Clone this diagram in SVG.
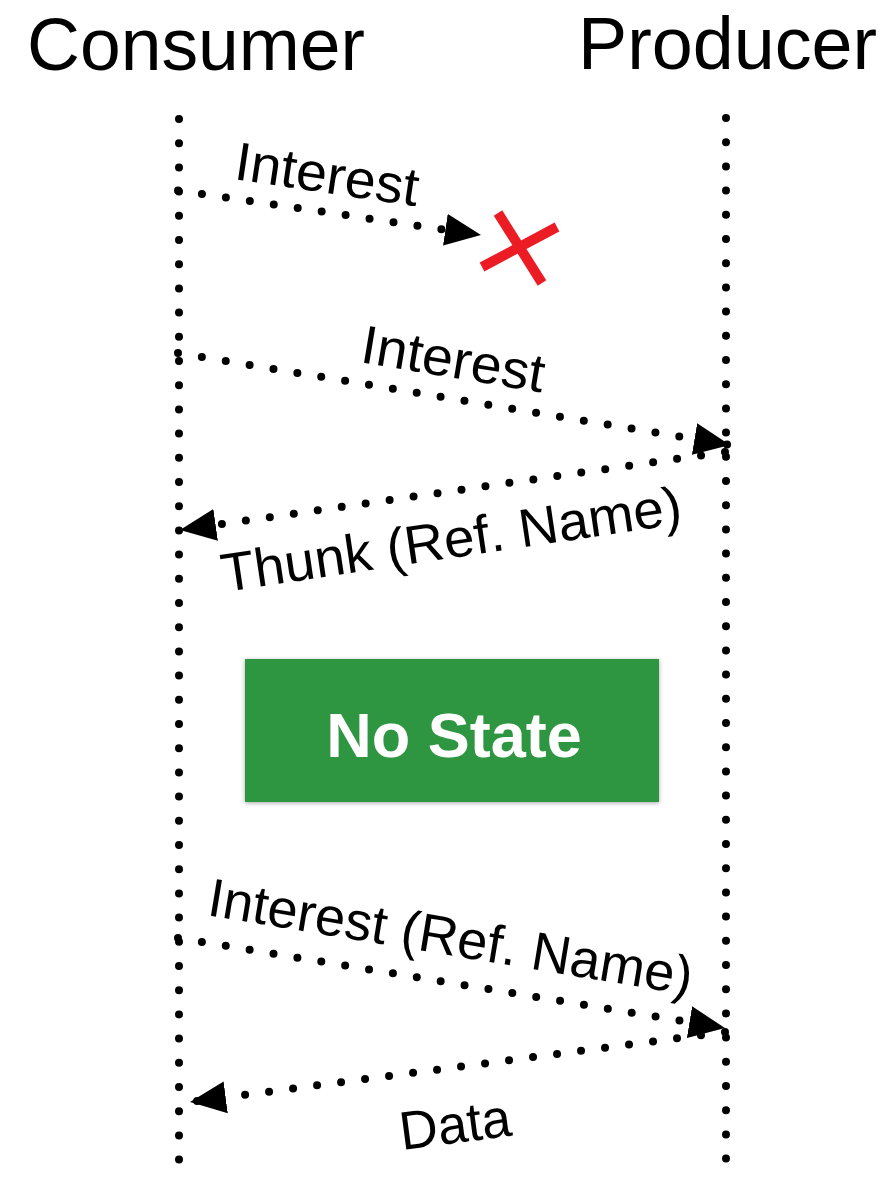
<svg xmlns="http://www.w3.org/2000/svg" width="886" height="1180" viewBox="0 0 886 1180">
<style>
.title{font-family:"Liberation Sans",Arial,sans-serif;font-size:74px;fill:#000}
.lbl{font-family:"Liberation Sans",Arial,sans-serif;font-size:54px;fill:#000}
.life{stroke:#000;stroke-width:8;stroke-linecap:round;stroke-dasharray:0 24.2;fill:none}
.msg{stroke:#000;stroke-width:8;stroke-linecap:round;stroke-dasharray:0 24.2;fill:none;marker-end:url(#ah)}
.state{font-family:"Liberation Sans",Arial,sans-serif;font-size:63px;font-weight:bold;fill:#fff}
</style>
<defs>
<marker id="ah" viewBox="0 0 36 32" refX="36" refY="16" markerWidth="36" markerHeight="32" markerUnits="userSpaceOnUse" orient="auto">
<path d="M0,0 L36,16 L0,32 z" fill="#000"/>
</marker>
<filter id="sh" x="-5%" y="-10%" width="110%" height="125%">
<feDropShadow dx="0" dy="1" stdDeviation="2" flood-color="#000" flood-opacity="0.35"/>
</filter>
</defs>
<rect width="886" height="1180" fill="#fff"/>
<g id="consumer">
<text class="title" x="27" y="70" textLength="338" lengthAdjust="spacingAndGlyphs">Consumer</text>
<line class="life" x1="179" y1="119" x2="179" y2="1180"/>
</g>
<g id="producer">
<text class="title" x="578" y="69" textLength="299" lengthAdjust="spacingAndGlyphs">Producer</text>
<line class="life" x1="726" y1="118" x2="726" y2="1180"/>
</g>
<g id="nostate">
<rect x="245" y="659" width="414" height="143" fill="#2e9640" filter="url(#sh)"/>
<text class="state" x="454" y="757" text-anchor="middle">No State</text>
</g>
<g id="lost">
<g stroke="#ec1c24" stroke-width="10" stroke-linecap="butt">
<line x1="498" y1="213" x2="542" y2="283"/>
<line x1="482" y1="267" x2="557" y2="227"/>
</g>
</g>
<g id="connectors">
<path class="msg" d="M178,190.5 L481,235"/>
<path class="msg" d="M178,353 L730,445"/>
<path class="msg" d="M725,452 L180,530"/>
<path class="msg" d="M178,938 L725,1028"/>
<path class="msg" d="M725,1032 L190,1102"/>
</g>
<g id="labels">
<text class="lbl" x="233" y="179" textLength="185" lengthAdjust="spacingAndGlyphs" transform="rotate(8.5 233 179)">Interest</text>
<text class="lbl" x="359" y="362" textLength="185" lengthAdjust="spacingAndGlyphs" transform="rotate(9.5 359 362)">Interest</text>
<text class="lbl" x="224" y="592" textLength="465" lengthAdjust="spacingAndGlyphs" transform="rotate(-8.5 224 592)">Thunk (Ref. Name)</text>
<text class="lbl" x="206" y="915" textLength="490" lengthAdjust="spacingAndGlyphs" transform="rotate(9.4 206 915)">Interest (Ref. Name)</text>
<text class="lbl" x="402" y="1150" textLength="112" lengthAdjust="spacingAndGlyphs" transform="rotate(-7.5 402 1150)">Data</text>
</g>
</svg>
